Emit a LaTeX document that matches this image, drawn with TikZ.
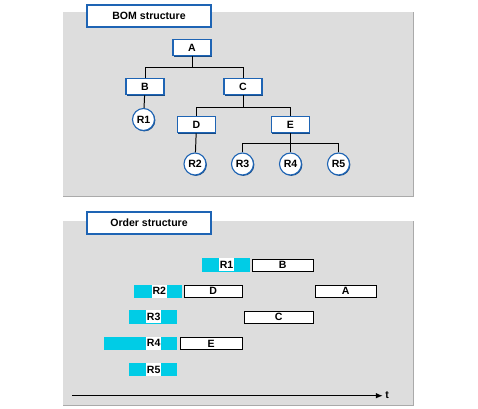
\documentclass[tikz,border=0pt]{standalone}
\usepackage{fontspec}
\setmainfont{Liberation Sans}
\usetikzlibrary{arrows.meta, shadows}

\definecolor{panelgray}{RGB}{221,221,221}
\definecolor{paneledge}{RGB}{170,170,170}
\definecolor{boxblue}{RGB}{30,100,180}
\definecolor{barcyan}{RGB}{0,204,230}

\tikzset{
  every node/.style={font=\fontsize{7.5}{9}\selectfont\bfseries, inner sep=0pt},
  blueshadow/.style={drop shadow={shadow xshift=0.6pt, shadow yshift=-0.6pt, fill=boxblue!75!black, opacity=1}},
  titlebox/.style={draw=boxblue, line width=0.8pt, fill=white, blueshadow, minimum width=3.1cm, minimum height=0.55cm},
  bomitem/.style={draw=boxblue, line width=0.8pt, fill=white, blueshadow, minimum width=0.95cm, minimum height=0.42cm},
  bomres/.style={circle, draw=boxblue, line width=0.8pt, fill=white, blueshadow, minimum size=0.55cm},
  link/.style={line width=0.7pt},
  orderbar/.style={draw=black, line width=0.6pt, fill=white, minimum height=0.3cm},
  reslabel/.style={fill=white, minimum width=0.37cm, minimum height=0.33cm},
}

\begin{document}
\begin{tikzpicture}[x=0.025cm, y=-0.025cm]
  \useasboundingbox (0,0) rectangle (478,408);

  % --- BOM structure ---
  \fill[panelgray] (63,12) rectangle (413,196);
  \draw[paneledge, line width=0.6pt] (413,12) -- (413,196) -- (63,196);
  \node[titlebox] (bomtitle) at (149,16) {BOM structure};

  \node[bomitem] (A) at (192,47.5) {A};
  \node[bomitem] (B) at (145,86.5) {B};
  \node[bomitem] (C) at (243,86.5) {C};
  \node[bomitem] (D) at (196.5,124.5) {D};
  \node[bomitem] (E) at (290.5,124.5) {E};
  \node[bomres] (R1) at (143.5,119.5) {R1};
  \node[bomres] (R2) at (195,164) {R2};
  \node[bomres] (R3) at (242.5,164) {R3};
  \node[bomres] (R4) at (290.5,164) {R4};
  \node[bomres] (R5) at (338.5,164) {R5};

  % links of the tree
  \draw[link] (A.south) -- ++(0,11.5) -| (B.north);
  \draw[link] (A.south) -- ++(0,11.5) -| (C.north);
  \draw[link] (B) -- (R1);
  \draw[link] (C.south) -- ++(0,12) -| (D.north);
  \draw[link] (C.south) -- ++(0,12) -| (E.north);
  \draw[link] (D) -- (R2);
  \draw[link] (E.south) -- ++(0,10.5) -| (R3.north);
  \draw[link] (E) -- (R4);
  \draw[link] (E.south) -- ++(0,10.5) -| (R5.north);

  % --- Order structure ---
  \fill[panelgray] (63,221) rectangle (413,405);
  \draw[paneledge, line width=0.6pt] (413,221) -- (413,405) -- (63,405);
  \node[titlebox] (ordertitle) at (149,223) {Order structure};

  % resources (cyan bars)
  \fill[barcyan] (202,258) rectangle (250,271.5);
  \node[reslabel] (o1) at (226.5,264.7) {R1};
  \fill[barcyan] (134,285) rectangle (181.7,297.7);
  \node[reslabel] (o2) at (159.3,291.3) {R2};
  \fill[barcyan] (129,310) rectangle (176.7,323.7);
  \node[reslabel] (o3) at (153.7,316.8) {R3};
  \fill[barcyan] (104,336.7) rectangle (176.7,349.7);
  \node[reslabel] (o4) at (153.7,343.2) {R4};
  \fill[barcyan] (129,363) rectangle (176.7,376.3);
  \node[reslabel] (o5) at (153.7,369.6) {R5};

  % orders
  \node[orderbar, minimum width=1.525cm] (oB) at (282.8,265.3) {B};
  \node[orderbar, minimum width=1.46cm] (oD) at (213.2,291.3) {D};
  \node[orderbar, minimum width=1.525cm] (oA) at (345.8,291.3) {A};
  \node[orderbar, minimum width=1.725cm] (oC) at (278.8,317.3) {C};
  \node[orderbar, minimum width=1.56cm] (oE) at (211.2,343.7) {E};

  % time axis
  \coordinate (t0) at (72,395.7);
  \node[anchor=west] (tlabel) at (385,395) {t};
  \draw[line width=0.9pt, -{Latex[length=5pt, width=4pt]}] (t0) -- ([xshift=-1.5pt]tlabel.west |- t0);
\end{tikzpicture}
\end{document}
